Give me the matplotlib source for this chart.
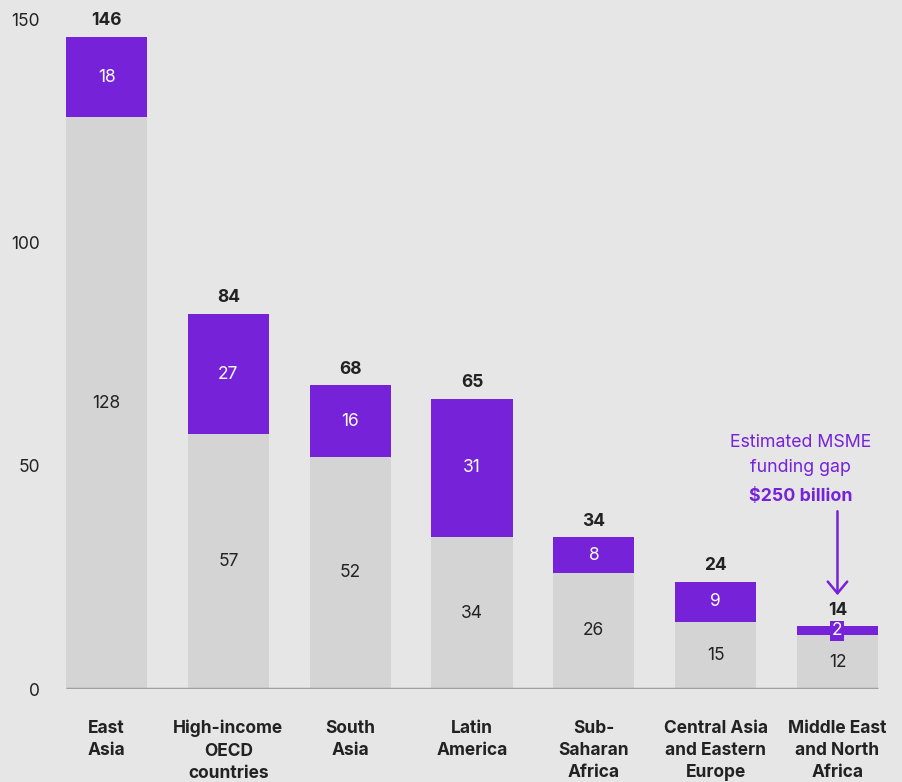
import matplotlib.pyplot as plt
import numpy as np

# data
regions = ["East\nAsia", "High-income\nOECD\ncountries", "South\nAsia", "Latin\nAmerica",
           "Sub-\nSaharan\nAfrica", "Central Asia\nand Eastern\nEurope", "Middle East\nand North\nAfrica"]
financed = [128, 57, 52, 34, 26, 15, 12]
gap = [18, 27, 16, 31, 8, 9, 2]
totals = [146, 84, 68, 65, 34, 24, 14]
yticks = [0, 50, 100, 150]

BG = "#e6e6e6"
GREY = "#d4d4d4"
PURPLE = "#7522d9"
TEXT = "#222222"

plt.rcParams['font.family'] = ['Inter', 'DejaVu Sans']

fig = plt.figure(figsize=(9.03, 7.82), dpi=100, facecolor=BG)
ax = fig.add_axes([0.0505, 0.1189, 0.9444, 0.8568], facecolor=BG)

x = np.arange(len(regions))
w = 0.665
ax.bar(x, financed, width=w, color=GREY, zorder=2)
ax.bar(x, gap, bottom=financed, width=w, color=PURPLE, zorder=2)

for i in range(len(regions)):
    ax.text(x[i], financed[i] / 2, str(financed[i]), ha='center', va='center',
            fontsize=12.5, color=TEXT, zorder=3)
    box = None
    if gap[i] < 5:
        box = dict(boxstyle='square,pad=0.1', fc=PURPLE, ec='none')
    ax.text(x[i], financed[i] + gap[i] / 2, str(gap[i]), ha='center', va='center',
            fontsize=12.5, color='white', zorder=3, bbox=box)
    ax.annotate(str(totals[i]), (x[i], totals[i]), xytext=(0, 5.5), textcoords='offset points',
                ha='center', va='bottom', fontsize=12.5, fontweight='bold', color=TEXT)
    ax.annotate(regions[i], (x[i], 0), xytext=(0, -22), textcoords='offset points',
                ha='center', va='top', fontsize=12.5, fontweight='bold', color=TEXT,
                linespacing=1.42, annotation_clip=False)

# baseline only under the bars
ax.hlines(0, x[0] - w / 2, x[-1] + w / 2, color="#a0a0a0", lw=2.5, zorder=4)

# funding-gap note
ax.text(5.70, 55.3, "Estimated MSME", ha='center', va='center', fontsize=12.8, color=PURPLE)
ax.text(5.70, 49.5, "funding gap", ha='center', va='center', fontsize=12.8, color=PURPLE)
ax.text(5.70, 43.2, "$250 billion", ha='center', va='center',
        fontsize=12.8, color=PURPLE, fontweight='bold')
ax.annotate("", xy=(6, 21.0), xytext=(6, 39.8),
            arrowprops=dict(arrowstyle='->,head_length=0.6,head_width=0.5',
                            color=PURPLE, lw=1.8, mutation_scale=14, shrinkA=0, shrinkB=0))

ax.set_xlim(-0.5, 6.5)
ax.set_ylim(0, 150)
ax.set_xticks([])
ax.set_yticks(yticks)
ax.tick_params(axis='y', length=0, pad=4, labelsize=12.5, labelcolor=TEXT)
for s in ax.spines.values():
    s.set_visible(False)

fig.savefig("out.png", dpi=100, facecolor=BG)
